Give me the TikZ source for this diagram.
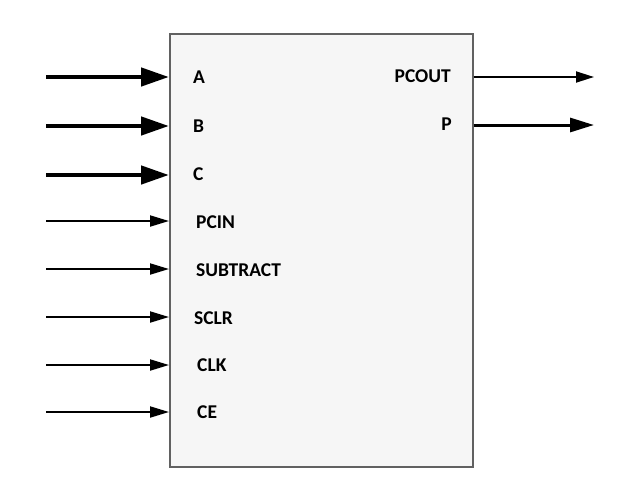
\documentclass[tikz,border=0pt]{standalone}
\usepackage{fontspec}
\setmainfont{Carlito}
\usetikzlibrary{positioning, arrows.meta, calc}

\begin{document}
\begin{tikzpicture}[x=1pt, y=-1pt, font=\fontsize{19.5}{22}\selectfont\bfseries,
		port/.style={inner sep=0pt, anchor=west},
		oport/.style={inner sep=0pt, anchor=east},
		bus/.style={line width=4.5pt, -{Triangle[length=28pt, width=18pt]}},
		wire/.style={line width=2pt, -{Triangle[length=19pt, width=11pt]}}]
	\useasboundingbox (0, 0) rectangle (630, 488);
	\def\inx{46}
	\def\outx{594}

	\node[draw=black!62, line width=1.5pt, fill=black!3.5, minimum width=303pt, minimum height=433pt, inner sep=0pt, anchor=north west] (blk) at (169, 33) {};

	% inputs
	\node[port] (a lbl) at (193, 77) {A};
	\coordinate (a in) at (\inx, 77);
	\draw [bus] (a in) -- (a in -| blk.west);

	\node[port] (b lbl) at (193, 126) {B};
	\coordinate (b in) at (\inx, 126);
	\draw [bus] (b in) -- (b in -| blk.west);

	\node[port] (c lbl) at (193, 174) {C};
	\coordinate (c in) at (\inx, 175);
	\draw [bus] (c in) -- (c in -| blk.west);

	\node[port] (pcin lbl) at (196, 222) {PCIN};
	\coordinate (pcin in) at (\inx, 221);
	\draw [wire] (pcin in) -- (pcin in -| blk.west);

	\node[port] (sub lbl) at (196, 270) {SUBTRACT};
	\coordinate (sub in) at (\inx, 269);
	\draw [wire] (sub in) -- (sub in -| blk.west);

	\node[port] (sclr lbl) at (194, 318) {SCLR};
	\coordinate (sclr in) at (\inx, 317);
	\draw [wire] (sclr in) -- (sclr in -| blk.west);

	\node[port] (clk lbl) at (197, 365) {CLK};
	\coordinate (clk in) at (\inx, 365);
	\draw [wire] (clk in) -- (clk in -| blk.west);

	\node[port] (ce lbl) at (197, 412) {CE};
	\coordinate (ce in) at (\inx, 412);
	\draw [wire] (ce in) -- (ce in -| blk.west);

	% outputs
	\node[oport] (pcout lbl) at (451, 76) {PCOUT};
	\coordinate (pcout out) at (\outx, 77);
	\draw [line width=1.8pt, -{Triangle[length=18pt, width=11pt]}] (pcout out -| blk.east) -- (pcout out);

	\node[oport] (p lbl) at (452, 124) {P};
	\coordinate (p out) at (\outx, 125);
	\draw [line width=3pt, -{Triangle[length=24pt, width=14pt]}] (p out -| blk.east) -- (p out);
\end{tikzpicture}
\end{document}
